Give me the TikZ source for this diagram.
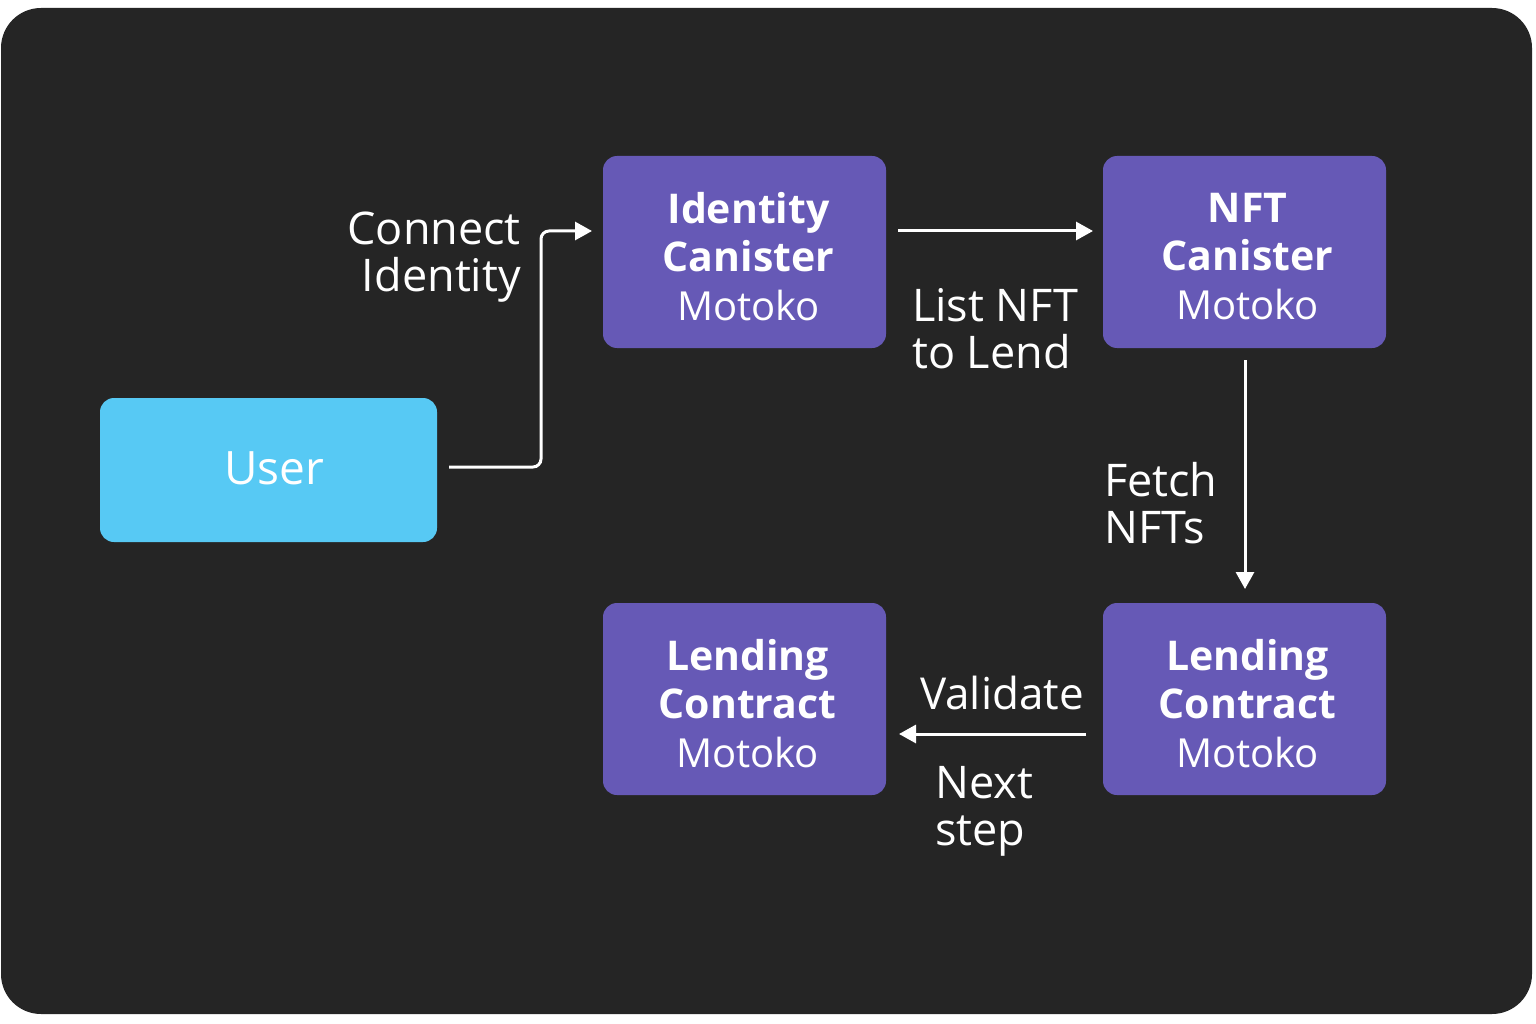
\documentclass[tikz,border=0pt]{standalone}
\usepackage{fontspec}
\setmainfont{Open Sans}
\usetikzlibrary{arrows.meta}
\definecolor{bg}{HTML}{252525}
\definecolor{boxpurple}{HTML}{6659B6}
\definecolor{boxcyan}{HTML}{57C9F4}
\newcommand{\ttlfont}{\fontsize{41}{48}\selectfont\bfseries}
\newcommand{\subfont}{\fontsize{40}{48}\selectfont\mdseries}
\tikzset{
  purplebox/.style={fill=boxpurple, rounded corners=14pt, minimum width=283pt, minimum height=192pt, inner sep=0pt},
  boxtxt/.style={text=white, align=center, inner sep=0pt, font=\ttlfont},
  userbox/.style={fill=boxcyan, rounded corners=14pt, minimum width=337pt, minimum height=144pt, inner sep=0pt},
  usertxt/.style={text=white, inner sep=0pt, font=\fontsize{46}{46}\selectfont},
  conn/.style={draw=white, line width=3pt, -{Triangle[length=17pt,width=18pt]}},
  lbl/.style={text=white, inner sep=0pt, font=\fontsize{45}{47}\selectfont},
}
\begin{document}
\begin{tikzpicture}[x=1pt,y=-1pt]
\useasboundingbox (0,0) rectangle (1536,1024);
\fill[white] (0,0) rectangle (1536,1024);
\fill[bg, rounded corners=40pt] (1,8) rectangle (1532,1014);

\node[userbox] (user) at (268.5,470) {};
\node[usertxt] (usert) at ([xshift=6pt,yshift=2pt]user.center) {User};

\node[purplebox] (ident) at (744.5,252) {};
\node[boxtxt] (identt) at ([xshift=4pt,yshift=-5pt]ident.center) {Identity\\Canister\\[1pt]{\subfont Motoko}};
\node[purplebox] (nft) at (1244.5,252) {};
\node[boxtxt] (nftt) at ([xshift=3pt,yshift=-5pt]nft.center) {NFT\\Canister\\[1pt]{\subfont Motoko}};
\node[purplebox] (lendr) at (1244.5,699) {};
\node[boxtxt] (lendrt) at ([xshift=3pt,yshift=-5pt]lendr.center) {Lending\\Contract\\[1pt]{\subfont Motoko}};
\node[purplebox] (lendl) at (744.5,699) {};
\node[boxtxt] (lendlt) at ([xshift=3pt,yshift=-5pt]lendl.center) {Lending\\Contract\\[1pt]{\subfont Motoko}};

\coordinate (ua) at (449,467);
\coordinate (ub) at (592,231);
\draw[conn, rounded corners=8pt] (ua) -- (541,467) -- (541,231) -- (ub);
\coordinate (ia) at (898,231);
\coordinate (ib) at (1093,231);
\draw[conn] (ia) -- (ib);
\coordinate (na) at (1245,360);
\coordinate (nb) at (1245,589);
\draw[conn] (na) -- (nb);
\coordinate (la) at (1086,734);
\coordinate (lb) at (899,734);
\draw[conn] (la) -- (lb);

\node[lbl, align=right, anchor=north east] (lconn) at (521,212) {Connect\\Identity};
\node[lbl, align=left, anchor=north west] (llist) at (912,288) {List NFT\\to Lend};
\node[lbl, align=left, anchor=north west] (lfetch) at (1104,462) {Fetch\\NFTs};
\node[lbl, align=left, anchor=north west, font=\fontsize{44}{47}\selectfont] (lval) at (920,676) {Validate};
\node[lbl, align=left, anchor=north west] (lnext) at (935,766) {Next\\step};
\end{tikzpicture}
\end{document}
